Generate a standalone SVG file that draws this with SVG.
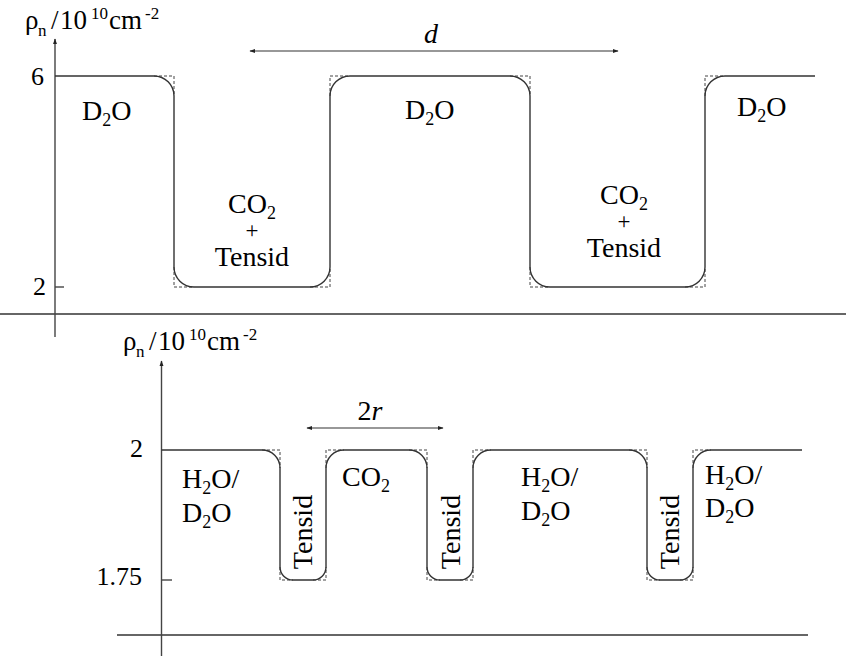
<svg xmlns="http://www.w3.org/2000/svg" width="846" height="657" viewBox="0 0 846 657">
<defs>
<style>
text{font-family:"Liberation Serif","Times New Roman",serif;fill:#000;}
.lbl{font-size:28px;}
.plus{font-size:23px;}
.num{font-size:26px;}
.ax{font-size:27px;}
.sub{font-size:18px;}
.sup{font-size:17px;}
.prof{fill:none;stroke:#333;stroke-width:1.4;}
.dash{fill:none;stroke:#444;stroke-width:1;stroke-dasharray:3,2;}
.axis{fill:none;stroke:#444;stroke-width:1.4;}
.sep{fill:none;stroke:#666;stroke-width:2;}
.dim{fill:none;stroke:#333;stroke-width:1.2;}
</style>
<marker id="ah" viewBox="0 0 10 10" refX="9" refY="5" markerWidth="6" markerHeight="6" orient="auto-start-reverse" markerUnits="userSpaceOnUse">
<path d="M0,1.5 L10,5 L0,8.5 Z" fill="#222"/>
</marker>
</defs>

<g id="connectors">
<line class="sep" x1="0" y1="314" x2="846" y2="314"/>
<line class="sep" x1="117" y1="635" x2="808" y2="635"/>
<line class="axis" x1="55" y1="337" x2="55" y2="39" marker-end="url(#ah)"/>
<line class="axis" x1="161.5" y1="656" x2="161.5" y2="361" marker-end="url(#ah)"/>
<line class="axis" x1="55" y1="287" x2="64" y2="287"/>
<line class="axis" x1="161.5" y1="580" x2="172" y2="580"/>
<line class="dim" x1="250" y1="51" x2="618" y2="51" marker-start="url(#ah)" marker-end="url(#ah)"/>
<line class="dim" x1="307" y1="428" x2="443" y2="428" marker-start="url(#ah)" marker-end="url(#ah)"/>
</g>

<g id="profile-top">
<path class="dash" d="M154,76 H174 V96 M174,267 V287 H194 M310,287 H330 V267 M330,96 V76 H350 M510,76 H530 V96 M530,267 V287 H550 M685,287 H705 V267 M705,96 V76 H725"/>
<path class="prof" d="M55,76 H154 A20,20 0 0 1 174,96 V267 A20,20 0 0 0 194,287 H310 A20,20 0 0 0 330,267 V96 A20,20 0 0 1 350,76 H510 A20,20 0 0 1 530,96 V267 A20,20 0 0 0 550,287 H685 A20,20 0 0 0 705,267 V96 A20,20 0 0 1 725,76 H815"/>
</g>

<g id="profile-bottom">
<path class="dash" d="M262,450 H280 V468 M280,567 V580 H293 M313,580 H326 V567 M326,468 V450 H344 M409,450 H427 V468 M427,567 V580 H440 M460,580 H473 V567 M473,468 V450 H491 M629,450 H647 V468 M647,567 V580 H660 M680,580 H693 V567 M693,468 V450 H711"/>
<path class="prof" d="M161.5,450 H262 A18,18 0 0 1 280,468 V567 A13,13 0 0 0 293,580 H313 A13,13 0 0 0 326,567 V468 A18,18 0 0 1 344,450 H409 A18,18 0 0 1 427,468 V567 A13,13 0 0 0 440,580 H460 A13,13 0 0 0 473,567 V468 A18,18 0 0 1 491,450 H629 A18,18 0 0 1 647,468 V567 A13,13 0 0 0 660,580 H680 A13,13 0 0 0 693,567 V468 A18,18 0 0 1 711,450 H802"/>
</g>

<g id="axis-label-top">
<text class="ax"><tspan x="25" y="29">ρ</tspan><tspan class="sup" x="38" y="36">n</tspan><tspan x="51" y="29">/</tspan><tspan x="60" y="29">10</tspan><tspan class="sup" x="91" y="19">10</tspan><tspan x="109" y="29">cm</tspan><tspan class="sup" x="145" y="19">-2</tspan></text>
<text class="num" x="44" y="85" text-anchor="end">6</text>
<text class="num" x="46" y="295" text-anchor="end">2</text>
</g>

<g id="axis-label-bottom">
<text class="ax"><tspan x="123" y="350">ρ</tspan><tspan class="sup" x="136" y="357">n</tspan><tspan x="149" y="350">/</tspan><tspan x="158" y="350">10</tspan><tspan class="sup" x="189" y="340">10</tspan><tspan x="207" y="350">cm</tspan><tspan class="sup" x="243" y="340">-2</tspan></text>
<text class="num" x="143" y="457" text-anchor="end">2</text>
<text class="num" x="142" y="585" text-anchor="end">1.75</text>
</g>

<g id="label-d">
<text class="lbl" x="431" y="43" text-anchor="middle" font-style="italic">d</text>
</g>
<g id="label-2r">
<text class="lbl" x="370" y="420" text-anchor="middle">2<tspan font-style="italic">r</tspan></text>
</g>

<g id="node-d2o-1">
<text class="lbl" x="82" y="120">D<tspan class="sub" dy="6">2</tspan><tspan dy="-6">O</tspan></text>
</g>
<g id="node-co2-tensid-1">
<text class="lbl" x="252" y="213" text-anchor="middle">CO<tspan class="sub" dy="6">2</tspan></text>
<text class="plus" x="252" y="238" text-anchor="middle">+</text>
<text class="lbl" x="252" y="266" text-anchor="middle">Tensid</text>
</g>
<g id="node-d2o-2">
<text class="lbl" x="405" y="119">D<tspan class="sub" dy="6">2</tspan><tspan dy="-6">O</tspan></text>
</g>
<g id="node-co2-tensid-2">
<text class="lbl" x="624" y="204" text-anchor="middle">CO<tspan class="sub" dy="6">2</tspan></text>
<text class="plus" x="624" y="229" text-anchor="middle">+</text>
<text class="lbl" x="624" y="257" text-anchor="middle">Tensid</text>
</g>
<g id="node-d2o-3">
<text class="lbl" x="737" y="116">D<tspan class="sub" dy="6">2</tspan><tspan dy="-6">O</tspan></text>
</g>

<g id="node-h2o-d2o-1">
<text class="lbl" x="182" y="488">H<tspan class="sub" dy="6">2</tspan><tspan dy="-6">O/</tspan></text>
<text class="lbl" x="182" y="522">D<tspan class="sub" dy="6">2</tspan><tspan dy="-6">O</tspan></text>
</g>
<g id="node-tensid-1">
<text class="lbl" transform="translate(312,532) rotate(-90)" text-anchor="middle">Tensid</text>
</g>
<g id="node-co2">
<text class="lbl" x="342" y="486">CO<tspan class="sub" dy="6">2</tspan></text>
</g>
<g id="node-tensid-2">
<text class="lbl" transform="translate(460,532) rotate(-90)" text-anchor="middle">Tensid</text>
</g>
<g id="node-h2o-d2o-2">
<text class="lbl" x="521" y="486">H<tspan class="sub" dy="6">2</tspan><tspan dy="-6">O/</tspan></text>
<text class="lbl" x="521" y="520">D<tspan class="sub" dy="6">2</tspan><tspan dy="-6">O</tspan></text>
</g>
<g id="node-tensid-3">
<text class="lbl" transform="translate(679,532) rotate(-90)" text-anchor="middle">Tensid</text>
</g>
<g id="node-h2o-d2o-3">
<text class="lbl" x="705" y="484">H<tspan class="sub" dy="6">2</tspan><tspan dy="-6">O/</tspan></text>
<text class="lbl" x="705" y="517">D<tspan class="sub" dy="6">2</tspan><tspan dy="-6">O</tspan></text>
</g>
</svg>
